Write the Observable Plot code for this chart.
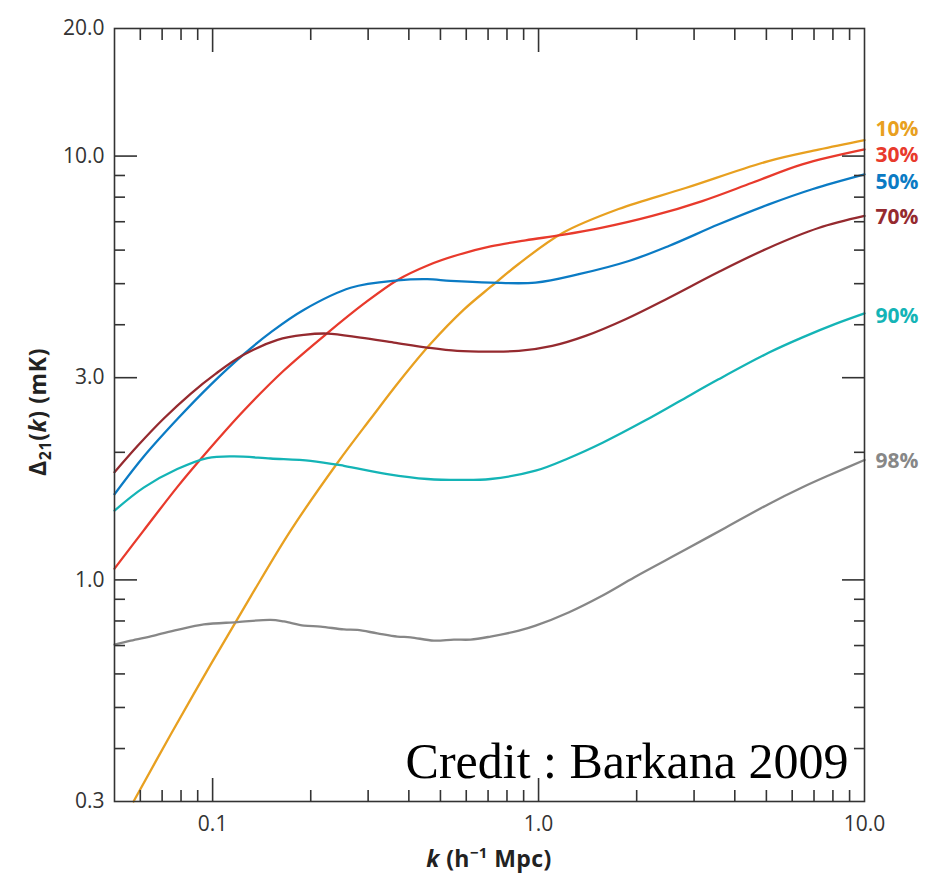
<!DOCTYPE html>
<html>
<head>
<meta charset="utf-8">
<script src="https://cdn.jsdelivr.net/npm/d3@7"></script>
<script src="https://cdn.jsdelivr.net/npm/@observablehq/plot@0.6"></script>
<style>
  body { margin: 0; background: #fff; }
</style>
</head>
<body>
<div id="chart"></div>
<script>
// ---- Data: [k (h^-1 Mpc), Delta_21(k) (mK)] ----
const s10 = [[0.0572,0.300],[0.0743,0.431],[0.0986,0.631],[0.1308,0.913],[0.1735,1.307],[0.2417,1.890],[0.3053,2.400],[0.3773,2.966],[0.4664,3.606],[0.5886,4.336],[0.7124,4.911],[0.8684,5.564],[1.185,6.585],[1.760,7.500],[2.825,8.408],[5.076,9.734],[7.225,10.36],[10,10.91]];
const s30 = [[0.05,1.063],[0.0614,1.307],[0.0781,1.660],[0.0938,1.963],[0.1245,2.506],[0.1651,3.115],[0.2253,3.827],[0.2905,4.479],[0.3694,5.103],[0.4566,5.52],[0.5643,5.843],[0.7124,6.12],[0.912,6.329],[1.182,6.514],[1.568,6.776],[2.233,7.222],[3.178,7.833],[4.524,8.65],[6.44,9.56],[10,10.37]];
const s50 = [[0.05,1.593],[0.0614,1.953],[0.0781,2.400],[0.0986,2.886],[0.1245,3.405],[0.1528,3.869],[0.1902,4.336],[0.2651,4.89],[0.3694,5.088],[0.4556,5.122],[0.5372,5.075],[0.7124,5.028],[0.979,5.028],[1.329,5.264],[1.892,5.655],[2.51,6.137],[3.573,6.903],[5.087,7.69],[6.911,8.35],[10,9.05]];
const s70 = [[0.05,1.795],[0.0589,2.072],[0.0707,2.400],[0.0856,2.749],[0.1021,3.063],[0.1245,3.396],[0.1582,3.685],[0.1906,3.785],[0.2248,3.813],[0.2844,3.731],[0.3598,3.631],[0.4556,3.533],[0.563,3.47],[0.7124,3.457],[0.87,3.47],[1.102,3.566],[1.394,3.765],[1.849,4.122],[2.505,4.627],[3.565,5.328],[5.076,6.071],[7.225,6.765],[10,7.222]];
const s90 = [[0.05,1.457],[0.0616,1.653],[0.0779,1.826],[0.0963,1.939],[0.1162,1.956],[0.1506,1.934],[0.1998,1.91],[0.2528,1.859],[0.3436,1.777],[0.4556,1.73],[0.5764,1.721],[0.7124,1.73],[0.979,1.81],[1.236,1.937],[1.572,2.107],[2.129,2.380],[2.688,2.632],[3.565,2.973],[5.076,3.434],[6.453,3.734],[8.147,4.018],[10,4.254]];
const s98 = [[0.05,0.704],[0.0561,0.719],[0.0661,0.739],[0.0779,0.762],[0.094,0.785],[0.1191,0.795],[0.1506,0.805],[0.1654,0.798],[0.1906,0.78],[0.2145,0.776],[0.2528,0.764],[0.2779,0.762],[0.32,0.748],[0.3686,0.735],[0.405,0.732],[0.4774,0.719],[0.5498,0.723],[0.6185,0.723],[0.7124,0.735],[0.87,0.759],[0.979,0.78],[1.236,0.838],[1.572,0.919],[1.970,1.015],[2.825,1.179],[3.746,1.328],[5.076,1.509],[6.453,1.654],[7.756,1.763],[10,1.918]];

const seriesNames  = ["10%", "30%", "50%", "70%", "90%", "98%"];
const seriesColors = ["#E8A020", "#E83A2C", "#0B7BC4", "#952A2F", "#14B4B6", "#878787"];

const xTickLabels = [0.1, 1, 10];
const yTickLabels = [0.3, 1, 3, 10, 20];
const xMajor = [0.1, 1];
const xMinor = [0.06, 0.07, 0.08, 0.09, 0.2, 0.3, 0.4, 0.5, 0.6, 0.7, 0.8, 0.9, 2, 3, 4, 5, 6, 7, 8, 9];
const yMajor = [1, 3, 10];
const yMinor = [0.4, 0.5, 0.6, 0.7, 0.8, 0.9, 2, 4, 5, 6, 7, 8, 9];
const creditText = "Credit : Barkana 2009";

// ---- Build table ----
const seriesData = [s10, s30, s50, s70, s90, s98];
const rows = seriesData.flatMap((s, i) => s.map(([k, v]) => ({k, v, name: seriesNames[i]})));
const ends = seriesData.map((s, i) => ({k: s[s.length - 1][0], v: s[s.length - 1][1], name: seriesNames[i], color: seriesColors[i]}));
const labelDy = [-11, 6, 8, 1, 3, 1];

const tickStyle = {stroke: "#333", strokeWidth: 1.6, fill: "none", label: null};
const fmt = d3.format(".1f");

const chart = Plot.plot({
  width: 943,
  height: 882,
  marginLeft: 114,
  marginRight: 79,
  marginTop: 28,
  marginBottom: 81,
  style: {fontFamily: "'Open Sans', sans-serif", color: "#333", background: "#fff", overflow: "visible"},
  x: {type: "log", domain: [0.05, 10], axis: null},
  y: {type: "log", domain: [0.3, 20], axis: null},
  color: {domain: seriesNames, range: seriesColors},
  marks: [
    Plot.line(rows, {x: "k", y: "v", z: "name", stroke: "name", strokeWidth: 2.3, curve: "catmull-rom"}),
    // tick marks (inward) on all four sides
    Plot.axisY(yMajor, {anchor: "left", tickSize: -23, ...tickStyle}),
    Plot.axisY(yMinor, {anchor: "left", tickSize: -11, ...tickStyle}),
    Plot.axisY(yMajor, {anchor: "right", tickSize: -23, ...tickStyle}),
    Plot.axisY(yMinor, {anchor: "right", tickSize: -11, ...tickStyle}),
    Plot.axisX(xMajor, {anchor: "bottom", tickSize: -23, ...tickStyle}),
    Plot.axisX(xMinor, {anchor: "bottom", tickSize: -11, ...tickStyle}),
    Plot.axisX(xMajor, {anchor: "top", tickSize: -23, ...tickStyle}),
    Plot.axisX(xMinor, {anchor: "top", tickSize: -11, ...tickStyle}),
    // tick labels
    Plot.axisY(yTickLabels, {anchor: "left", tickSize: 0, tickPadding: 10, tickFormat: fmt, fontSize: 21, fill: "#333", label: null}),
    Plot.axisX(xTickLabels, {anchor: "bottom", tickSize: 0, tickPadding: 15, tickFormat: fmt, fontSize: 21, fill: "#333", label: null}),
    Plot.frame({stroke: "#333", strokeWidth: 1.6}),
    // series labels at the right end
    ...ends.map((d, i) => Plot.text([d], {
      x: "k", y: "v", text: "name", fill: d.color,
      dx: 11, dy: labelDy[i], textAnchor: "start",
      fontSize: 21, fontWeight: "bold", letterSpacing: 0.8
    })),
    Plot.text([creditText], {
      frameAnchor: "bottom-right", dx: -16, dy: -40,
      textAnchor: "end", lineAnchor: "middle",
      fontSize: 50, fontFamily: "'Liberation Serif', 'Times New Roman', serif", fill: "#000"
    })
  ]
});

document.getElementById("chart").appendChild(chart);

// Axis titles with sub/superscripts
const svg = d3.select(chart);
const yl = svg.append("text")
  .attr("transform", "translate(46,412) rotate(-90)")
  .attr("text-anchor", "middle")
  .attr("font-family", "'Open Sans', sans-serif")
  .attr("font-weight", "bold")
  .attr("font-size", 23)
  .attr("letter-spacing", 0.6)
  .attr("fill", "#222");
yl.append("tspan").text("Δ");
yl.append("tspan").attr("font-size", 16).attr("dy", 5).text("21");
yl.append("tspan").attr("dy", -5).text("(");
yl.append("tspan").attr("font-style", "italic").text("k");
yl.append("tspan").text(") (mK)");

const xl = svg.append("text")
  .attr("x", 489)
  .attr("y", 867)
  .attr("text-anchor", "middle")
  .attr("font-family", "'Open Sans', sans-serif")
  .attr("font-weight", "bold")
  .attr("font-size", 23)
  .attr("letter-spacing", 0.4)
  .attr("fill", "#222");
xl.append("tspan").attr("font-style", "italic").text("k");
xl.append("tspan").text(" (h");
xl.append("tspan").attr("font-size", 15).attr("dy", -9).text("−1");
xl.append("tspan").attr("dy", 9).text(" Mpc)");
</script>
</body>
</html>
